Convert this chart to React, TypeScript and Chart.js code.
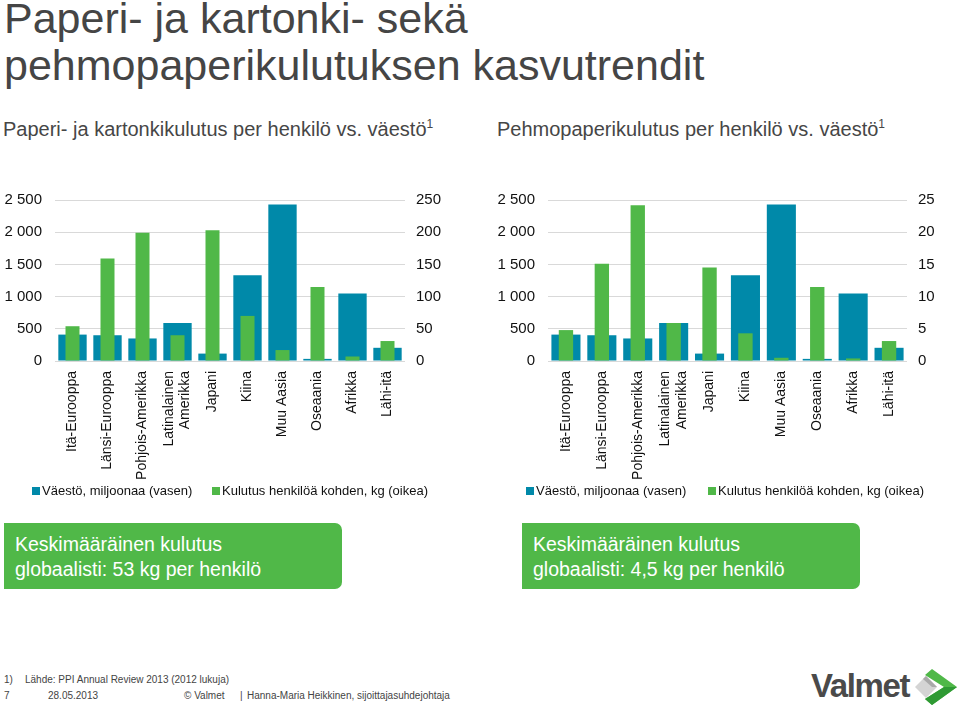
import React, { useEffect, useRef } from "react";
import { Chart, registerables } from "chart.js";

Chart.register(...registerables);

// ---------- data ----------
const categories: (string | string[])[] = [
  "Itä-Eurooppa",
  "Länsi-Eurooppa",
  "Pohjois-Amerikka",
  ["Latinalainen", "Amerikka"],
  "Japani",
  "Kiina",
  "Muu Aasia",
  "Oseaania",
  "Afrikka",
  "Lähi-itä",
];

// population, millions (left axis)
const population = [410, 400, 350, 590, 115, 1330, 2430, 33, 1050, 205];
// paper & board consumption per capita, kg (right axis, left chart)
const paperPerCapita = [54, 159, 199, 40, 203, 70, 17, 115, 7, 31];
// tissue consumption per capita, kg (right axis, right chart)
const tissuePerCapita = [4.8, 15.1, 24.2, 5.9, 14.5, 4.3, 0.5, 11.5, 0.4, 3.1];

const populationAxis = { min: 0, max: 2500, step: 500 };
const paperAxis = { min: 0, max: 250, step: 50 };
const tissueAxis = { min: 0, max: 25, step: 5 };

const seriesLabels = ["Väestö, miljoonaa (vasen)", "Kulutus henkilöä kohden, kg (oikea)"];

// ---------- styles ----------
const BLUE = "#0089a9";
const GREEN = "#50b848";
const FONT = "'Liberation Sans', Arial, Helvetica, sans-serif";
const TEXT = "#464646";
const X_FONT_SIZE = 14;
const X_LINE_HEIGHT = 1.15;

const fmtThousands = (v: number) =>
  v >= 1000 ? `${Math.floor(v / 1000)} ${String(v % 1000).padStart(3, "0")}` : String(v);

type ChartProps = {
  perCapita: number[];
  rightAxis: { min: number; max: number; step: number };
  left: number;
  width: number;
  leftAxisW: number;
  rightAxisW: number;
};

const CANVAS_TOP = 178;
const CANVAS_H = 307;
const X_AXIS_H = 124;

// center multi-line rotated category labels on their tick
function centerMultiLineLabels(scale: any) {
  if (typeof scale._computeLabelItems !== "function" || scale.__centered) return;
  const orig = scale._computeLabelItems.bind(scale);
  scale.__centered = true;
  scale._computeLabelItems = (area: any) => {
    const items = orig(area);
    return items.map((it: any) => {
      if (!Array.isArray(it.label) || it.label.length < 2 || !it.options || !it.options.translation) return it;
      const shift = ((it.label.length - 1) * X_FONT_SIZE * X_LINE_HEIGHT) / 2;
      return {
        ...it,
        options: {
          ...it.options,
          translation: [it.options.translation[0] - shift, it.options.translation[1]],
        },
      };
    });
  };
}

function DualBarChart({ perCapita, rightAxis, left, width, leftAxisW, rightAxisW }: ChartProps) {
  const ref = useRef<HTMLCanvasElement | null>(null);

  useEffect(() => {
    if (!ref.current) return;
    const chart = new Chart(ref.current, {
      type: "bar",
      data: {
        labels: categories as any,
        datasets: [
          {
            label: seriesLabels[0],
            data: population,
            backgroundColor: BLUE,
            yAxisID: "y",
            grouped: false,
            categoryPercentage: 1,
            barPercentage: 0.81,
            order: 2,
          } as any,
          {
            label: seriesLabels[1],
            data: perCapita,
            backgroundColor: GREEN,
            yAxisID: "y1",
            grouped: false,
            categoryPercentage: 1,
            barPercentage: 0.4,
            order: 1,
          } as any,
        ],
      },
      options: {
        animation: false,
        responsive: false,
        maintainAspectRatio: false,
        layout: { padding: 0 },
        plugins: {
          legend: { display: false },
          tooltip: { enabled: false },
        },
        scales: {
          x: {
            grid: { display: false, drawTicks: false },
            border: { display: false },
            ticks: {
              autoSkip: false,
              maxRotation: 90,
              minRotation: 90,
              padding: 10,
              color: "#111",
              font: { size: X_FONT_SIZE, family: FONT, lineHeight: X_LINE_HEIGHT },
            },
            afterFit: (s: any) => {
              s.height = X_AXIS_H;
            },
            afterUpdate: (s: any) => {
              try {
                centerMultiLineLabels(s);
              } catch (e) {
                /* ignore */
              }
            },
          },
          y: {
            position: "left",
            min: populationAxis.min,
            max: populationAxis.max,
            ticks: {
              stepSize: populationAxis.step,
              padding: 13,
              color: "#111",
              font: { size: 15, family: FONT },
              callback: (v: any) => fmtThousands(Number(v)),
            },
            grid: { color: "#d9d9d9", lineWidth: 1, drawTicks: false },
            border: { display: false },
            afterFit: (s: any) => {
              s.width = leftAxisW;
            },
          },
          y1: {
            position: "right",
            min: rightAxis.min,
            max: rightAxis.max,
            ticks: {
              stepSize: rightAxis.step,
              padding: 11,
              color: "#111",
              font: { size: 15, family: FONT },
            },
            grid: { drawOnChartArea: false, drawTicks: false },
            border: { display: false },
            afterFit: (s: any) => {
              s.width = rightAxisW;
            },
          },
        },
      } as any,
    });
    return () => chart.destroy();
  }, []);

  return (
    <canvas
      ref={ref}
      width={width}
      height={CANVAS_H}
      style={{ position: "absolute", left, top: CANVAS_TOP, width, height: CANVAS_H }}
    />
  );
}

function Legend({ blueX, greenX }: { blueX: number; greenX: number }) {
  const item = (x: number, color: string, text: string) => (
    <>
      <div style={{ position: "absolute", left: x, top: 487, width: 8, height: 8, background: color }} />
      <div
        style={{
          position: "absolute",
          left: x + 10,
          top: 483,
          fontSize: 13,
          lineHeight: "15px",
          color: "#111",
          whiteSpace: "nowrap",
        }}
      >
        {text}
      </div>
    </>
  );
  return (
    <>
      {item(blueX, BLUE, seriesLabels[0])}
      {item(greenX, GREEN, seriesLabels[1])}
    </>
  );
}

function Sup() {
  return <span style={{ fontSize: 12, position: "relative", top: -8 }}>1</span>;
}

function InfoBox({ left, line1, line2 }: { left: number; line1: string; line2: string }) {
  return (
    <div
      style={{
        position: "absolute",
        left,
        top: 523,
        width: 338,
        height: 66,
        background: GREEN,
        borderRadius: "0 7px 7px 0",
        color: "#fff",
        fontSize: 19.5,
        lineHeight: "25px",
        boxSizing: "border-box",
        paddingLeft: 11,
        paddingTop: 9,
        whiteSpace: "nowrap",
      }}
    >
      <div>{line1}</div>
      <div>{line2}</div>
    </div>
  );
}

function ValmetLogo() {
  return (
    <>
      <div
        style={{
          position: "absolute",
          left: 811,
          top: 669,
          fontSize: 33,
          lineHeight: "33px",
          fontWeight: 700,
          letterSpacing: -1.4,
          color: "#4a4a4a",
        }}
      >
        Valmet
      </div>
      <svg width={46} height={40} viewBox="0 0 46 40" style={{ position: "absolute", left: 912, top: 667 }}>
        <polygon points="3,20 14,9 25,20 14,31" fill="#d4d4d4" />
        <polygon points="14,9 25,20 20,20 11,12" fill="#a9a9a9" />
        <polygon points="20,2 45,20 20,38 13,32 32,20 13,8" fill="#4fb848" />
        <polygon points="32,20 45,20 20,38 13,32" fill="#2f9a34" />
      </svg>
    </>
  );
}

const footStyle: React.CSSProperties = {
  position: "absolute",
  fontSize: 10,
  lineHeight: "12px",
  color: "#444",
  whiteSpace: "nowrap",
};

export default function App() {
  return (
    <div
      style={{
        position: "fixed",
        left: 0,
        top: 0,
        width: 960,
        height: 709,
        overflow: "hidden",
        background: "#fff",
        fontFamily: FONT,
        color: TEXT,
      }}
    >
      <div
        style={{
          position: "absolute",
          left: 4,
          top: -5,
          fontSize: 43,
          lineHeight: "47px",
          color: "#454545",
          whiteSpace: "nowrap",
        }}
      >
        <div>Paperi- ja kartonki- sekä</div>
        <div>pehmopaperikulutuksen kasvutrendit</div>
      </div>

      <div style={{ position: "absolute", left: 3, top: 118, fontSize: 20, lineHeight: "23px", whiteSpace: "nowrap" }}>
        Paperi- ja kartonkikulutus per henkilö vs. väestö
        <Sup />
      </div>
      <div style={{ position: "absolute", left: 497, top: 118, fontSize: 20, lineHeight: "23px", whiteSpace: "nowrap" }}>
        Pehmopaperikulutus per henkilö vs. väestö
        <Sup />
      </div>

      <DualBarChart
        perCapita={paperPerCapita}
        rightAxis={paperAxis}
        left={0}
        width={460}
        leftAxisW={55}
        rightAxisW={55}
      />
      <DualBarChart
        perCapita={tissuePerCapita}
        rightAxis={tissueAxis}
        left={484}
        width={476}
        leftAxisW={64}
        rightAxisW={53}
      />

      <Legend blueX={32} greenX={212} />
      <Legend blueX={526} greenX={708} />

      <InfoBox left={4} line1="Keskimääräinen kulutus" line2="globaalisti: 53 kg per henkilö" />
      <InfoBox left={522} line1="Keskimääräinen kulutus" line2="globaalisti: 4,5 kg per henkilö" />

      <div style={{ ...footStyle, left: 4, top: 674 }}>1)</div>
      <div style={{ ...footStyle, left: 25, top: 674 }}>Lähde: PPI Annual Review 2013 (2012 lukuja)</div>
      <div style={{ ...footStyle, left: 4, top: 690 }}>7</div>
      <div style={{ ...footStyle, left: 48, top: 690 }}>28.05.2013</div>
      <div style={{ ...footStyle, left: 184, top: 690 }}>© Valmet</div>
      <div style={{ ...footStyle, left: 240, top: 690 }}>|</div>
      <div style={{ ...footStyle, left: 247, top: 690 }}>Hanna-Maria Heikkinen, sijoittajasuhdejohtaja</div>

      <ValmetLogo />
    </div>
  );
}
